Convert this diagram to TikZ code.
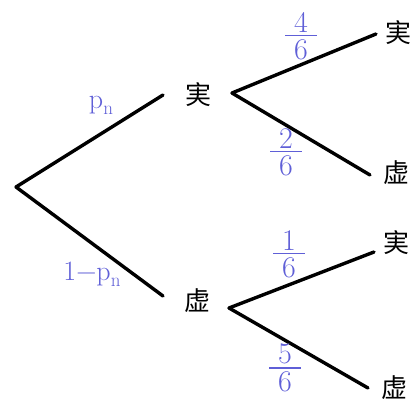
\documentclass[tikz,border=0pt]{standalone}
\usepackage{fontspec}
\newfontfamily\cjk{Noto Sans CJK SC}
\definecolor{lblue}{RGB}{95,95,215}
\newcommand{\myfr}[2]{\vbox{\hbox to 1.05em{\hss#1\hss}\kern2.5pt\hrule height 1.6pt\kern3pt\hbox to 1.05em{\hss#2\hss}}}
\newcommand{\subn}{\raisebox{-6pt}{\fontsize{19}{22}\selectfont n}}
\tikzset{
  branch/.style={line width=3.4pt, line cap=round, black},
  cjklabel/.style={font=\cjk\fontsize{26}{30}\selectfont, inner sep=0pt},
  prob/.style={text=lblue, font=\fontsize{30}{34}\selectfont, inner sep=0pt},
  pl/.style={text=lblue, font=\fontsize{28}{32}\selectfont, inner sep=0pt}
}
\begin{document}
\begin{tikzpicture}[x=1pt,y=-1pt]
\useasboundingbox (0,0) rectangle (420,401);
% points
\coordinate (r) at (16,187);
\coordinate (ue) at (163,95);
\coordinate (le) at (163,296);
\coordinate (us) at (232,93);
\coordinate (ls) at (229,308);
\coordinate (uue) at (376,34);
\coordinate (ule) at (370,175);
\coordinate (lue) at (374,252);
\coordinate (lle) at (368,388);
% labels
\node[cjklabel] (u) at (198,95) {実};
\node[cjklabel] (l) at (197,301) {虚};
\node[cjklabel] (uu) at (398,33) {実};
\node[cjklabel] (ul) at (396,173) {虚};
\node[cjklabel] (lu) at (396,243) {実};
\node[cjklabel] (ll) at (394,388) {虚};
% branches
\draw[branch] (r) -- (ue);
\draw[branch] (r) -- (le);
\draw[branch] (us) -- (uue);
\draw[branch] (us) -- (ule);
\draw[branch] (ls) -- (lue);
\draw[branch] (ls) -- (lle);
% probabilities
\node[pl] (p1) at (101,105) {p\subn};
\node[pl] (p2) at (92,274) {1−p\subn};
\node[prob] (f1) at (301,36) {\myfr{4}{6}};
\node[prob] (f2) at (286,152) {\myfr{2}{6}};
\node[prob] (f3) at (289,254) {\myfr{1}{6}};
\node[prob] (f4) at (285,368) {\myfr{5}{6}};
\end{tikzpicture}
\end{document}
